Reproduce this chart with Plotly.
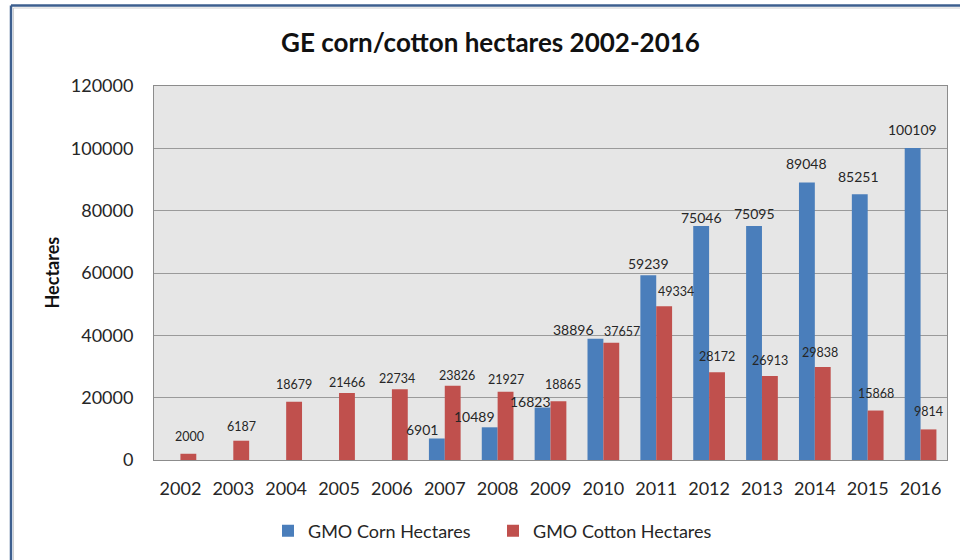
import plotly.graph_objects as go

# ---- data ----
years = ["2002", "2003", "2004", "2005", "2006", "2007", "2008", "2009",
         "2010", "2011", "2012", "2013", "2014", "2015", "2016"]
corn = [None, None, None, None, None, 6901, 10489, 16823, 38896, 59239,
        75046, 75095, 89048, 85251, 100109]
cotton = [2000, 6187, 18679, 21466, 22734, 23826, 21927, 18865, 37657, 49334,
          28172, 26913, 29838, 15868, 9814]
y_ticks = [0, 20000, 40000, 60000, 80000, 100000, 120000]

# label nudges (pixels) to mimic hand-placed Excel data labels
corn_dx = [0, 0, 0, 0, 0, -15, -15, -12, -22, 0, 0, 0, 0, -1, 0]
corn_dy = [0, 0, 0, 0, 0, 8.5, 10.5, 6, 9, 12, 9, 12.5, 18.5, 17.5, 18]
cot_dx = [1, 0, 0, 0, -3, 4, 0, 4.5, 11, 12, 0, 0, -3, 0, 0]
cot_dy = [17, 14, 17, 10.5, 11, 10.5, 12.5, 17, 11, 15, 16, 16, 15, 17, 17.5]

BLUE = "#4a7ebb"
RED = "#c0504d"
FONT = "Lato"

# layout geometry (px)
W, H = 960, 560
ML, MR, MT, MB = 154, 13, 86, 100
PW, PH = W - ML - MR, H - MT - MB

def px_x(p):
    return (p - ML) / PW

def px_y(p):
    return (H - MB - p) / PH

BARGAP = 0.4
off = (1 - BARGAP) / 4

fig = go.Figure()
fig.add_trace(go.Bar(x=list(range(len(years))), y=corn, name="GMO Corn Hectares",
                     marker=dict(color=BLUE, line=dict(width=0))))
fig.add_trace(go.Bar(x=list(range(len(years))), y=cotton, name="GMO Cotton Hectares",
                     marker=dict(color=RED, line=dict(width=0))))

annotations = []
for i, v in enumerate(corn):
    if v is None:
        continue
    annotations.append(dict(x=i - off, y=v, xref="x", yref="y", text=str(v),
                            showarrow=False, xanchor="center", yanchor="middle",
                            xshift=corn_dx[i], yshift=corn_dy[i],
                            font=dict(family=FONT, size=14, color="#262626")))
for i, v in enumerate(cotton):
    annotations.append(dict(x=i + off, y=v, xref="x", yref="y", text=str(v),
                            showarrow=False, xanchor="center", yanchor="middle",
                            xshift=cot_dx[i], yshift=cot_dy[i],
                            font=dict(family=FONT, size=12.5, color="#262626")))

# title and y-axis title
annotations.append(dict(x=px_x(490), y=px_y(42), xref="paper", yref="paper",
                        text="<b>GE corn/cotton hectares 2002-2016</b>", showarrow=False,
                        xanchor="center", yanchor="middle",
                        font=dict(family=FONT, size=26, color="#111111")))
annotations.append(dict(x=px_x(51.5), y=px_y(272), xref="paper", yref="paper",
                        text="<b>Hectares</b>", showarrow=False, textangle=-90,
                        xanchor="center", yanchor="middle",
                        font=dict(family=FONT, size=18, color="#111111")))

shapes = [
    # outer frame (blue) – left and top edges
    dict(type="line", xref="paper", yref="paper", x0=px_x(11), x1=px_x(11),
         y0=px_y(5.5), y1=px_y(580), line=dict(color="#3d5f8f", width=2.5)),
    dict(type="line", xref="paper", yref="paper", x0=px_x(11), x1=px_x(980),
         y0=px_y(5.5), y1=px_y(5.5), line=dict(color="#3d5f8f", width=2.5)),
    dict(type="line", xref="paper", yref="paper", x0=px_x(13.5), x1=px_x(13.5),
         y0=px_y(8), y1=px_y(580), line=dict(color="#d0d0d0", width=1)),
    dict(type="line", xref="paper", yref="paper", x0=px_x(13.5), x1=px_x(980),
         y0=px_y(8), y1=px_y(8), line=dict(color="#d0d0d0", width=1)),
]

fig.update_layout(
    width=W, height=H,
    margin=dict(l=ML, r=MR, t=MT, b=MB, autoexpand=False),
    paper_bgcolor="white",
    plot_bgcolor="#e6e6e6",
    barmode="group", bargap=BARGAP, bargroupgap=0,
    font=dict(family=FONT, size=18, color="#262626"),
    showlegend=True,
    legend=dict(orientation="h", x=px_x(268), y=px_y(531), xanchor="left", yanchor="middle",
                font=dict(family=FONT, size=18, color="#262626"),
                entrywidth=180, entrywidthmode="pixels", bgcolor="rgba(0,0,0,0)",
                traceorder="normal"),
    annotations=annotations,
    shapes=shapes,
)
fig.update_xaxes(
    tickmode="array", tickvals=list(range(len(years))), ticktext=years,
    range=[-0.5, len(years) - 0.5],
    showgrid=False, showline=True, linecolor="#8c8c8c", linewidth=1, mirror=True,
    ticks="", ticklabelstandoff=12,
    tickfont=dict(family=FONT, size=18, color="#262626"),
)
fig.update_yaxes(
    range=[0, 120000], tickmode="array", tickvals=y_ticks,
    ticktext=[str(t) for t in y_ticks],
    showgrid=True, gridcolor="#9a9a9a", gridwidth=1,
    showline=True, linecolor="#8c8c8c", linewidth=1, mirror=True,
    zeroline=False, ticks="", ticklabelstandoff=16,
    tickfont=dict(family=FONT, size=18, color="#262626"),
)

fig.write_html("out.html")
